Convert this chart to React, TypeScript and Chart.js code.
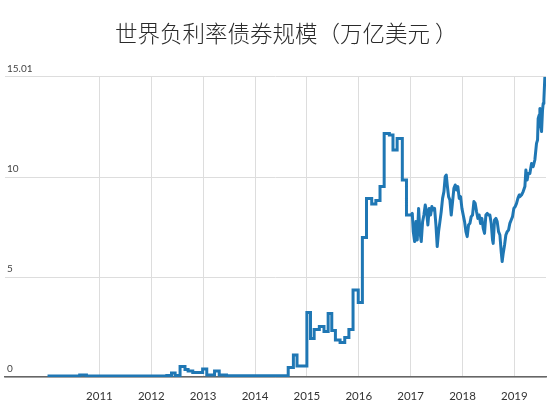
import React, { useEffect, useRef } from "react";
import { Chart, registerables } from "chart.js";

Chart.register(...registerables);

const titleText = "世界负利率债券规模（万亿美元 ）";

const xTickValues = [2011, 2012, 2013, 2014, 2015, 2016, 2017, 2018, 2019];
const xTickLabels = ["2011", "2012", "2013", "2014", "2015", "2016", "2017", "2018", "2019"];
const yTickValues = [0, 5, 10, 15.01];
const yTickLabels = ["0", "5", "10", "15.01"];

// monthly (stepped) period
const stepDates = [
  2010.0, 2010.62, 2010.75, 2012.3, 2012.39, 2012.46, 2012.555, 2012.65, 2012.71, 2012.8,
  2012.99, 2013.07, 2013.22, 2013.31, 2013.45, 2014.64, 2014.74, 2014.81, 2015.0, 2015.07,
  2015.14, 2015.24, 2015.33, 2015.41, 2015.48, 2015.55, 2015.64, 2015.73, 2015.81, 2015.89,
  2015.99, 2016.07, 2016.15, 2016.25, 2016.33, 2016.41, 2016.49, 2016.59, 2016.66, 2016.74,
  2016.84, 2016.92, 2017.012,
];
const stepValues = [
  0.05, 0.1, 0.05, 0.08, 0.2, 0.08, 0.52, 0.38, 0.3, 0.22,
  0.4, 0.1, 0.3, 0.1, 0.06, 0.48, 1.1, 0.55, 3.23, 1.93,
  2.38, 2.52, 2.27, 3.18, 2.32, 1.85, 1.73, 1.98, 2.38, 4.35,
  3.73, 6.98, 8.93, 8.65, 8.82, 9.52, 12.18, 12.1, 11.35, 11.93,
  9.85, 8.1, 8.1,
];

// daily period
const dailyDates = [
  2017.012, 2017.032, 2017.051, 2017.077, 2017.102, 2017.128, 2017.154, 2017.179, 2017.205, 2017.231,
  2017.256, 2017.282, 2017.308, 2017.333, 2017.359, 2017.385, 2017.41, 2017.436, 2017.462, 2017.488,
  2017.513, 2017.539, 2017.565, 2017.59, 2017.616, 2017.642, 2017.667, 2017.687, 2017.706, 2017.732,
  2017.757, 2017.783, 2017.809, 2017.834, 2017.86, 2017.886, 2017.911, 2017.937, 2017.963, 2017.989,
  2018.014, 2018.04, 2018.066, 2018.091, 2018.117, 2018.143, 2018.168, 2018.194, 2018.22, 2018.245,
  2018.271, 2018.297, 2018.322, 2018.348, 2018.374, 2018.4, 2018.425, 2018.451, 2018.477, 2018.502,
  2018.528, 2018.554, 2018.579, 2018.592, 2018.618, 2018.644, 2018.669, 2018.695, 2018.721, 2018.746,
  2018.765, 2018.785, 2018.811, 2018.836, 2018.862, 2018.888, 2018.913, 2018.939, 2018.965, 2018.99,
  2019.016, 2019.042, 2019.068, 2019.093, 2019.106, 2019.138, 2019.17, 2019.203, 2019.222, 2019.247,
  2019.267, 2019.299, 2019.331, 2019.363, 2019.395, 2019.427, 2019.447, 2019.459, 2019.479, 2019.492,
  2019.511, 2019.524, 2019.543, 2019.556, 2019.569, 2019.588,
];
const dailyValues = [
  8.1, 8.18, 7.27, 6.77, 7.77, 6.85, 8.43, 7.27, 6.77, 7.77,
  8.1, 8.6, 8.27, 7.6, 8.43, 8.1, 8.52, 8.35, 8.43, 7.6,
  6.52, 7.27, 7.77, 8.27, 8.93, 9.27, 10.02, 10.1, 9.6, 9.02,
  8.85, 8.1, 8.77, 9.43, 9.6, 9.35, 9.52, 8.93, 9.02, 8.43,
  8.1, 7.77, 7.27, 7.02, 7.6, 7.68, 8.02, 8.1, 8.77, 8.68,
  8.27, 7.93, 8.1, 7.68, 7.93, 7.43, 7.18, 8.1, 8.18, 8.1,
  8.1, 7.68, 6.85, 6.68, 7.85, 7.93, 7.77, 7.27, 7.1, 6.27,
  5.77, 6.18, 6.6, 7.1, 7.27, 7.35, 7.68, 7.85, 8.02, 8.43,
  8.52, 8.68, 8.93, 9.1, 9.02, 9.1, 9.27, 9.52, 10.35, 9.85,
  10.18, 10.18, 10.68, 10.52, 10.85, 11.68, 11.85, 12.93, 13.1, 13.43,
  12.52, 12.27, 13.35, 13.68, 13.85, 15.01,
];

const lineColor = "#1f77b4";

const titlePlugin = {
  id: "customTitle",
  afterDraw(chart: any) {
    const ctx = chart.ctx;
    ctx.save();
    ctx.font = '300 22.5px "Noto Sans CJK SC", sans-serif';
    ctx.fillStyle = "#2a2a2a";
    ctx.textAlign = "left";
    ctx.textBaseline = "middle";
    ctx.fillText(titleText, 115, 33);
    ctx.restore();
  },
};

export default function App() {
  const ref = useRef<HTMLCanvasElement | null>(null);

  useEffect(() => {
    document.body.style.margin = "0";
    const canvas = ref.current;
    if (!canvas) return;
    const chart = new Chart(canvas, {
      type: "line",
      data: {
        datasets: [
          {
            data: stepDates.map((d, i) => ({ x: d, y: stepValues[i] })),
            borderColor: lineColor,
            borderWidth: 3,
            stepped: true,
            pointRadius: 0,
            fill: false,
            borderJoinStyle: "miter",
          },
          {
            data: dailyDates.map((d, i) => ({ x: d, y: dailyValues[i] })),
            borderColor: lineColor,
            borderWidth: 3,
            tension: 0,
            pointRadius: 0,
            fill: false,
            borderJoinStyle: "round",
          },
        ],
      },
      options: {
        animation: false,
        responsive: false,
        maintainAspectRatio: false,
        layout: { padding: { left: 5, right: 4, top: 76.8, bottom: 0 } },
        plugins: {
          legend: { display: false },
          title: { display: false },
          tooltip: { enabled: false },
        },
        scales: {
          x: {
            type: "linear",
            min: 2009.18,
            max: 2019.61,
            afterBuildTicks: (scale: any) => {
              scale.ticks = xTickValues.map((v) => ({ value: v }));
            },
            afterFit: (scale: any) => {
              scale.height = 30;
            },
            ticks: {
              autoSkip: false,
              maxRotation: 0,
              padding: 12,
              color: "#333",
              font: { family: "Lato", size: 11.5 },
              callback: (_v: any, i: number) => xTickLabels[i],
            },
            grid: { color: "#dddddd", lineWidth: 1, drawTicks: false },
            border: { display: true, color: "#666", width: 1.5 },
          },
          y: {
            type: "linear",
            min: 0,
            max: 15.01,
            afterBuildTicks: (scale: any) => {
              scale.ticks = yTickValues.map((v) => ({ value: v }));
            },
            afterFit: (scale: any) => {
              scale.width = 0;
            },
            ticks: {
              mirror: true,
              padding: 2,
              labelOffset: -8.5,
              crossAlign: "near",
              color: "#444",
              font: { family: "Lato", size: 10 },
              callback: (_v: any, i: number) => yTickLabels[i],
            },
            grid: { color: "#dddddd", lineWidth: 1, drawTicks: false },
            border: { display: false },
          },
        },
      },
      plugins: [titlePlugin],
    } as any);
    return () => chart.destroy();
  }, []);

  return (
    <div style={{ position: "fixed", left: 0, top: 0, width: 550, height: 407, background: "#fff" }}>
      <canvas ref={ref} width={550} height={407} style={{ width: 550, height: 407 }} />
    </div>
  );
}
